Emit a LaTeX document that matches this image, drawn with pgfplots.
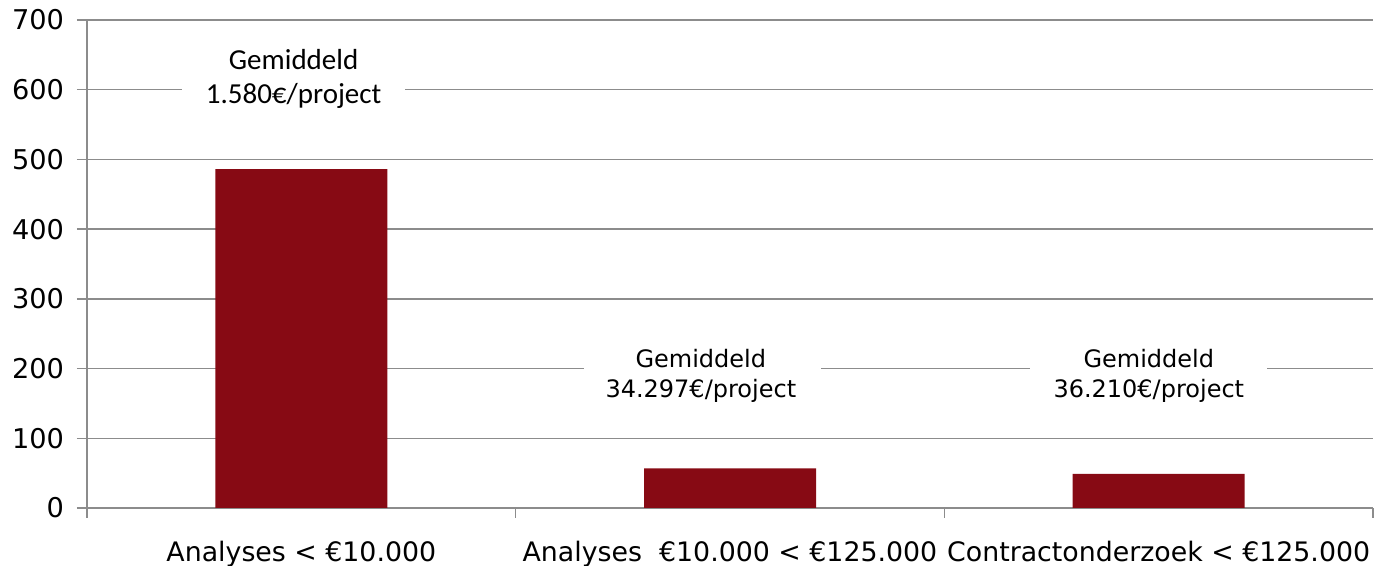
\documentclass[border=0pt]{standalone}
\usepackage{fontspec}
\setmainfont{DejaVu Sans}
\newfontfamily\calib{Carlito}
\usepackage{pgfplots}
\pgfplotsset{compat=1.18}
\definecolor{barred}{HTML}{870A14}
\definecolor{gridgray}{HTML}{8C8C8C}
\begin{document}
\begin{tikzpicture}
\begin{axis}[
  scale only axis,
  width=643pt, height=244pt,
  xmin=-0.5, xmax=2.5,
  ymin=0, ymax=700,
  ytick={0,100,...,700},
  xtick={0,1,2},
  xticklabels={Analyses < €10.000, Analyses\ \ €10.000 < €125.000, Contractonderzoek < €125.000},
  minor xtick={-0.5,0.5,1.5,2.5},
  axis x line=bottom, axis y line=left,
  axis line style={gridgray, line width=0.7pt, -},
  ymajorgrids, grid style={gridgray, line width=0.7pt},
  tick align=outside,
  major tick length=5pt, minor tick length=5pt,
  x tick style={draw=none},
  minor x tick style={draw=gridgray, line width=0.7pt},
  y tick style={gridgray, line width=0.7pt},
  tick label style={font=\fontsize{13.4}{15}\selectfont, text=black},
  /pgf/number format/assume math mode=true,
  xticklabel style={yshift=-8pt},
  yticklabel style={xshift=-3pt, font=\fontsize{13.6}{15}\selectfont},
  ybar, bar width=86pt,
  clip=false,
]
\addplot[fill=barred, draw=none] coordinates {(0,486) (1,57) (2,49)};
\node[fill=white, minimum width=111.5pt, minimum height=36pt, inner sep=0pt] at (axis cs:-0.018,615) {};
\node[align=center, inner sep=0pt,
  font=\calib\fontsize{14.5}{17}\selectfont] at (axis cs:-0.018,615) {Gemiddeld\\1.580€/project};
\node[fill=white, minimum width=118.5pt, minimum height=32pt, inner sep=0pt] at (axis cs:0.936,190) {};
\node[align=center, inner sep=0pt,
  font=\fontsize{12}{15}\selectfont] at (axis cs:0.932,190) {Gemiddeld\\34.297€/project};
\node[fill=white, minimum width=118.5pt, minimum height=32pt, inner sep=0pt] at (axis cs:1.977,190) {};
\node[align=center, inner sep=0pt,
  font=\fontsize{12}{15}\selectfont] at (axis cs:1.977,190) {Gemiddeld\\36.210€/project};
\end{axis}
\pgfresetboundingbox
\path (-43.5pt,-29pt) rectangle (643.5pt,254pt);
\end{tikzpicture}
\end{document}
